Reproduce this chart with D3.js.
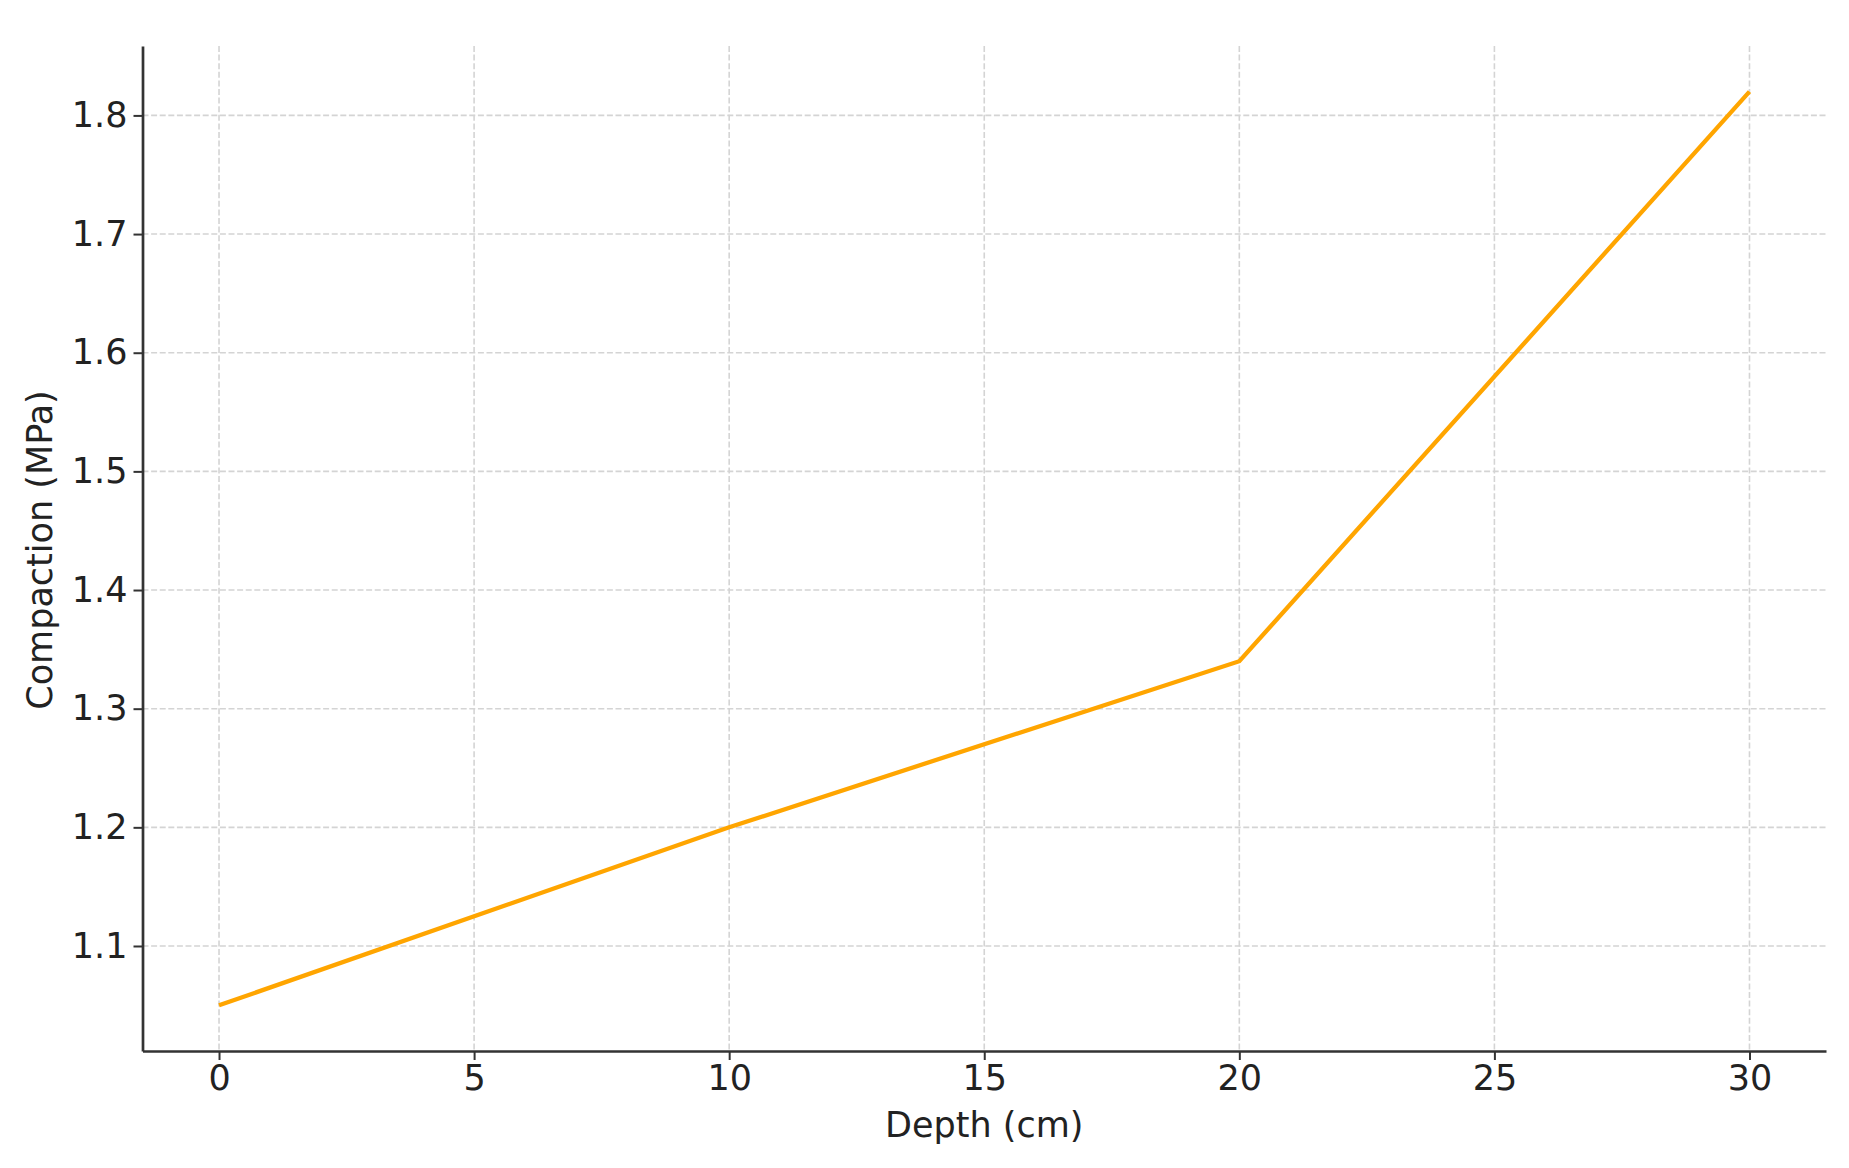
<!DOCTYPE html>
<html>
<head>
<meta charset="utf-8">
<script src="https://cdnjs.cloudflare.com/ajax/libs/d3/7.8.5/d3.min.js"></script>
<style>
  body { margin: 0; background: #fff; }
  svg { display: block; }
  .tick text { font-family: "DejaVu Sans", sans-serif; fill: #222; }
</style>
</head>
<body>
<script>
// data
var depths = [0, 10, 20, 30];
var compaction = [1.05, 1.20, 1.34, 1.82];
var xTicks = [0, 5, 10, 15, 20, 25, 30];
var yTicks = [1.1, 1.2, 1.3, 1.4, 1.5, 1.6, 1.7, 1.8];

var fullWidth = 1849;
var fullHeight = 1168;
// plot box (note: "top" is reserved on window, so prefixed names)
var plotLeft = 142.5, plotRight = 1826, plotTop = 46, plotBottom = 1051;
var fontSize = 35;

var svg = d3.select("body").append("svg")
    .attr("width", fullWidth)
    .attr("height", fullHeight);

// scales (matplotlib-like 5% auto margins)
var xScale = d3.scaleLinear()
    .domain([-1.5, 31.5])
    .range([plotLeft, plotRight]);

var yScale = d3.scaleLinear()
    .domain([1.0115, 1.8585])
    .range([plotBottom, plotTop]);

// grid lines, dashed light grey
var grid = svg.append("g");
grid.selectAll(".vgrid").data(xTicks).enter().append("line")
    .attr("class", "vgrid")
    .attr("x1", d => xScale(d)).attr("x2", d => xScale(d))
    .attr("y1", plotTop).attr("y2", plotBottom)
    .attr("stroke", "#d4d4d4")
    .attr("stroke-width", 1.6)
    .attr("stroke-dasharray", "6,2.6");
grid.selectAll(".hgrid").data(yTicks).enter().append("line")
    .attr("class", "hgrid")
    .attr("x1", plotLeft).attr("x2", plotRight)
    .attr("y1", d => yScale(d)).attr("y2", d => yScale(d))
    .attr("stroke", "#d4d4d4")
    .attr("stroke-width", 1.6)
    .attr("stroke-dasharray", "6,2.6");

// x axis
var xAxis = svg.append("g")
    .attr("transform", `translate(0, ${plotBottom})`)
    .call(d3.axisBottom(xScale).tickValues(xTicks).tickSize(9).tickPadding(5).tickSizeOuter(0));

// y axis
var yAxis = svg.append("g")
    .attr("transform", `translate(${plotLeft}, 0)`)
    .call(d3.axisLeft(yScale).tickValues(yTicks).tickFormat(d3.format(".1f")).tickSize(9).tickPadding(6).tickSizeOuter(0));

// style both axes
[xAxis, yAxis].forEach(function(ax) {
    ax.select(".domain").attr("stroke", "#333").attr("stroke-width", 2.7);
    ax.selectAll(".tick line").attr("stroke", "#333").attr("stroke-width", 2);
    ax.selectAll(".tick text").style("font-size", fontSize + "px");
});

// the compaction line
var line = d3.line()
    .x((d, i) => xScale(depths[i]))
    .y(d => yScale(d));

svg.append("path")
    .datum(compaction)
    .attr("d", line)
    .attr("fill", "none")
    .attr("stroke", "#FFA500")
    .attr("stroke-width", 4.3);

// axis titles
svg.append("text")
    .attr("x", xScale(15))
    .attr("y", 1137)
    .attr("text-anchor", "middle")
    .style("font-family", "DejaVu Sans, sans-serif")
    .style("font-size", fontSize + "px")
    .style("fill", "#222")
    .text("Depth (cm)");

svg.append("text")
    .attr("transform", "translate(52, 550) rotate(-90)")
    .attr("text-anchor", "middle")
    .style("font-family", "DejaVu Sans, sans-serif")
    .style("font-size", fontSize + "px")
    .style("fill", "#222")
    .text("Compaction (MPa)");
</script>
</body>
</html>
